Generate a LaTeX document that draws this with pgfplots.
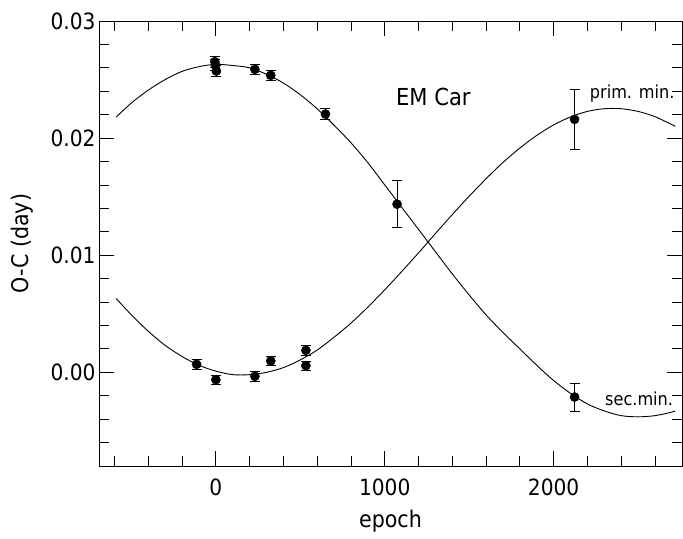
\documentclass[border=0pt]{standalone}
\usepackage{fontspec}
\setmainfont{DejaVu Sans Condensed}
\usepackage{pgfplots}
\pgfplotsset{compat=1.18}
\usepackage{pgfplotstable}

% fitted curves
\pgfplotstableread{
x y
-590 0.0218
-500 0.0230
-400 0.0241
-300 0.0250
-200 0.0257
-100 0.0261
0 0.0263
100 0.0262
200 0.0260
300 0.02545
400 0.0247
500 0.0237
600 0.0225
700 0.0211
800 0.0196
900 0.0179
1000 0.0160
1100 0.0141
1200 0.0122
1300 0.0103
1400 0.0084
1500 0.0066
1600 0.0049
1700 0.0034
1800 0.0020
1900 0.0006
2000 -0.0007
2100 -0.0018
2200 -0.0027
2300 -0.0033
2400 -0.0037
2500 -0.0038
2600 -0.0037
2700 -0.0034
2720 -0.0033
}\seccurve

\pgfplotstableread{
x y
-590 0.0063
-500 0.0049
-400 0.0035
-300 0.0023
-200 0.00135
-100 0.0006
0 0.0001
100 -0.0002
200 -0.0002
300 0.0000
400 0.0004
500 0.00106
600 0.0019
700 0.0030
800 0.0042
900 0.00557
1000 0.00705
1100 0.0086
1200 0.0102
1300 0.01185
1400 0.01347
1500 0.01504
1600 0.01653
1700 0.01792
1800 0.01915
1900 0.02023
2000 0.02113
2100 0.02181
2200 0.02228
2300 0.02251
2400 0.02251
2500 0.02228
2600 0.02183
2700 0.02115
2720 0.0210
}\primcurve

% observed minima
\pgfplotstableread{
x y e
-6 0.02652 0.00045
-3 0.02624 0.00045
3 0.02573 0.00045
231 0.02587 0.0004
325 0.02536 0.0004
649 0.02205 0.00045
1073 0.01436 0.0020
2124 -0.00211 0.0012
}\secmin

\pgfplotstableread{
x y e
-114 0.00068 0.0004
0 -0.00063 0.0004
231 -0.00034 0.0004
325 0.00097 0.0004
533 0.00188 0.0004
533 0.00057 0.0004
2124 0.0216 0.0026
}\primmin

\begin{document}
\begin{tikzpicture}
\path[use as bounding box] (-99bp,-73bp) rectangle (584bp,466bp);
\begin{axis}[
    at={(0,0)}, anchor=south west,
    scale only axis,
    width=583bp, height=445bp,
    xmin=-692, xmax=2760,
    ymin=-0.008, ymax=0.03,
    xtick={0,1000,2000},
    xticklabels={0,1000,2000},
    ytick={0,0.01,0.02,0.03},
    yticklabels={0.00,0.01,0.02,0.03},
    scaled y ticks=false,
    minor xtick={-600,-400,-200,200,400,600,800,1200,1400,1600,1800,2200,2400,2600},
    minor ytick={-0.006,-0.004,-0.002,0.002,0.004,0.006,0.008,0.012,0.014,0.016,0.018,0.022,0.024,0.026,0.028},
    major tick length=15pt,
    minor tick length=10pt,
    tick style={black, line width=0.8pt},
    axis line style={line width=0.9pt},
    xticklabel style={yshift=-9bp},
    ticklabel style={font=\fontsize{22.5}{27}\selectfont},
    label style={font=\fontsize{23}{28}\selectfont},
    xlabel={epoch},
    ylabel={O-C (day)},
    xlabel style={at={(axis description cs:0.5,-0.125)}, anchor=center},
    ylabel style={at={(axis description cs:-0.132,0.5)}, anchor=center},
    clip=false,
]
% long ticks at the labelled values
\addplot[black, line width=0.8pt] coordinates {(0,-0.008) (0,-0.00672)};
\addplot[black, line width=0.8pt] coordinates {(1000,-0.008) (1000,-0.00672)};
\addplot[black, line width=0.8pt] coordinates {(2000,-0.008) (2000,-0.00672)};
\addplot[black, line width=0.8pt] coordinates {(0,0.03) (0,0.02872)};
\addplot[black, line width=0.8pt] coordinates {(1000,0.03) (1000,0.02872)};
\addplot[black, line width=0.8pt] coordinates {(2000,0.03) (2000,0.02872)};
\addplot[black, line width=0.8pt] coordinates {(-692,0) (-603,0)};
\addplot[black, line width=0.8pt] coordinates {(-692,0.01) (-603,0.01)};
\addplot[black, line width=0.8pt] coordinates {(-692,0.02) (-603,0.02)};
\addplot[black, line width=0.8pt] coordinates {(2760,0) (2671,0)};
\addplot[black, line width=0.8pt] coordinates {(2760,0.01) (2671,0.01)};
\addplot[black, line width=0.8pt] coordinates {(2760,0.02) (2671,0.02)};
\addplot[black, line width=0.9bp, smooth] table[x=x, y=y] {\seccurve};
\addplot[black, line width=0.9bp, smooth] table[x=x, y=y] {\primcurve};
\addplot[only marks, mark=*, mark size=4.6bp, black,
    error bars/.cd, y dir=both, y explicit,
    error bar style={line width=0.8bp},
    error mark options={rotate=90, mark size=5bp, line width=0.8bp}]
    table[x=x, y=y, y error=e] {\secmin};
\addplot[only marks, mark=*, mark size=4.6bp, black,
    error bars/.cd, y dir=both, y explicit,
    error bar style={line width=0.8bp},
    error mark options={rotate=90, mark size=5bp, line width=0.8bp}]
    table[x=x, y=y, y error=e] {\primmin};
\node[font=\fontsize{23.5}{28}\selectfont] at (axis cs:1288,0.02353) {EM Car};
\node[font=\fontsize{18}{22}\selectfont] at (axis cs:2465,0.02382) {prim. min.};
\node[font=\fontsize{18}{22}\selectfont] at (axis cs:2506,-0.00225) {sec.min.};
\end{axis}
\end{tikzpicture}
\end{document}
